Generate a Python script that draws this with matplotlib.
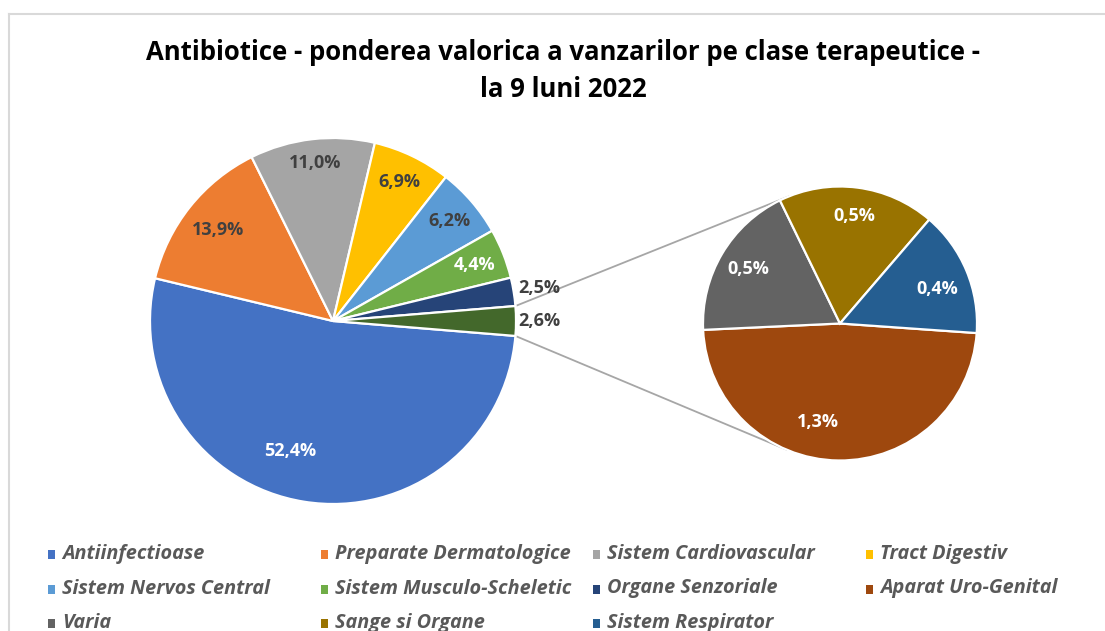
import numpy as np
import matplotlib
matplotlib.use('Agg')
import matplotlib.pyplot as plt
from matplotlib.patches import Rectangle
from matplotlib.lines import Line2D

W, H = 1105, 631

# valori (%)
main_labels = ['Antiinfectioase', 'Preparate Dermatologice', 'Sistem Cardiovascular', 'Tract Digestiv',
               'Sistem Nervos Central', 'Sistem Musculo-Scheletic', 'Organe Senzoriale', 'Altele']
main_values = [52.4, 13.9, 11.0, 6.9, 6.2, 4.4, 2.5, 2.6]
main_colors = ['#4472C4', '#ED7D31', '#A5A5A5', '#FFC000', '#5B9BD5', '#70AD47', '#264478', '#43682B']

sub_labels = ['Aparat Uro-Genital', 'Varia', 'Sange si Organe', 'Sistem Respirator']
sub_values = [1.3, 0.5, 0.5, 0.4]
sub_colors = ['#9E480E', '#636363', '#997300', '#255E91']

legend_order = ['Antiinfectioase', 'Preparate Dermatologice', 'Sistem Cardiovascular', 'Tract Digestiv',
                'Sistem Nervos Central', 'Sistem Musculo-Scheletic', 'Organe Senzoriale', 'Aparat Uro-Genital',
                'Varia', 'Sange si Organe', 'Sistem Respirator']

title = 'Antibiotice - ponderea valorica a vanzarilor pe clase terapeutice -\nla 9 luni 2022'

dark = '#404040'
main_txt_col = ['white', dark, dark, dark, dark, 'white', dark, dark]
main_txt_dist = [0.75, 0.80, 0.87, 0.84, 0.84, 0.83, 1.14, 1.13]
main_txt_shift = [-9, 0, 0, 0, 0, 0, 0, 0]  # grade, ca la "best fit" din Excel
sub_txt_dist = [0.74, 0.78, 0.79, 0.75]
sub_txt_shift = [-12, 0, 0, -3]


def fmt(v):
    return f'{v:.1f}%'.replace('.', ',')


def fx(px):
    return px / W


def fy(py):
    return 1 - py / H


fig = plt.figure(figsize=(W / 100, H / 100), dpi=100)
ax = fig.add_axes([0, 0, 1, 1])

scale = 183.0  # px per unit (raza pie principal)
sub_center = (507 / scale, -2.5 / scale)
sub_radius = 137 / scale

other_frac = main_values[-1] / sum(main_values)
wp = dict(edgecolor='white', linewidth=1.6)

main_w, _ = ax.pie(main_values, colors=main_colors, startangle=-other_frac * 180,
                   counterclock=False, radius=1, center=(0, 0), wedgeprops=wp)
sub_w, _ = ax.pie(sub_values, colors=sub_colors, startangle=-4, counterclock=False,
                  radius=sub_radius, center=sub_center, wedgeprops=wp)

lab_font = dict(family='Open Sans', fontweight='bold', fontsize=13, ha='center', va='center')

for w, v, c, d, s in zip(main_w, main_values, main_txt_col, main_txt_dist, main_txt_shift):
    ang = np.deg2rad((w.theta1 + w.theta2) / 2 + s)
    ax.text(d * np.cos(ang), d * np.sin(ang), fmt(v), color=c, **lab_font)

for w, v, d, s in zip(sub_w, sub_values, sub_txt_dist, sub_txt_shift):
    ang = np.deg2rad((w.theta1 + w.theta2) / 2 + s)
    ax.text(sub_center[0] + d * sub_radius * np.cos(ang),
            sub_center[1] + d * sub_radius * np.sin(ang), fmt(v), color='white', **lab_font)

# linii de legatura intre felia "Altele" si pie-ul secundar
ow = main_w[-1]
cx, cy = sub_center
for th, sign in [(ow.theta1, 1), (ow.theta2, -1)]:
    t = np.deg2rad(th)
    px, py = np.cos(t), np.sin(t)
    d = np.hypot(px - cx, py - cy)
    phi = np.arctan2(py - cy, px - cx)
    tan_ang = phi + sign * np.arccos(sub_radius / d)
    tx, ty = cx + sub_radius * np.cos(tan_ang), cy + sub_radius * np.sin(tan_ang)
    ax.plot([px, tx], [py, ty], color='#A6A6A6', lw=1.3, zorder=0)

ax.set_xlim(-333 / scale, (W - 333) / scale)
ax.set_ylim((321 - H) / scale, 321 / scale)
ax.set_aspect('equal')
ax.axis('off')

fig.text(fx(563), fy(71), title, ha='center', va='center', fontsize=18.5,
         fontweight='bold', family='Open Sans', color='black', linespacing=1.45)

# legenda (3 randuri x 4 coloane, ca in Excel)
col_map = dict(zip(main_labels + sub_labels, main_colors + sub_colors))
for i, name in enumerate(legend_order):
    r, c = divmod(i, 4)
    x = 48 + c * 272.7
    y = 554 + r * 34.5
    fig.add_artist(Rectangle((fx(x), fy(y + 5)), 7 / W, 9 / H, transform=fig.transFigure,
                             facecolor=col_map[name], edgecolor='none'))
    fig.text(fx(x + 14), fy(y), name, ha='left', va='center', fontsize=14.3, style='italic',
             fontweight='bold', family='Open Sans', color='#595959')

# chenar
fig.add_artist(Line2D([fx(9), fx(9)], [fy(14), 0], transform=fig.transFigure, color='#D9D9D9', lw=1.5))
fig.add_artist(Line2D([fx(9), 1], [fy(14), fy(14)], transform=fig.transFigure, color='#D9D9D9', lw=1.5))

fig.savefig('out.png', dpi=100)
